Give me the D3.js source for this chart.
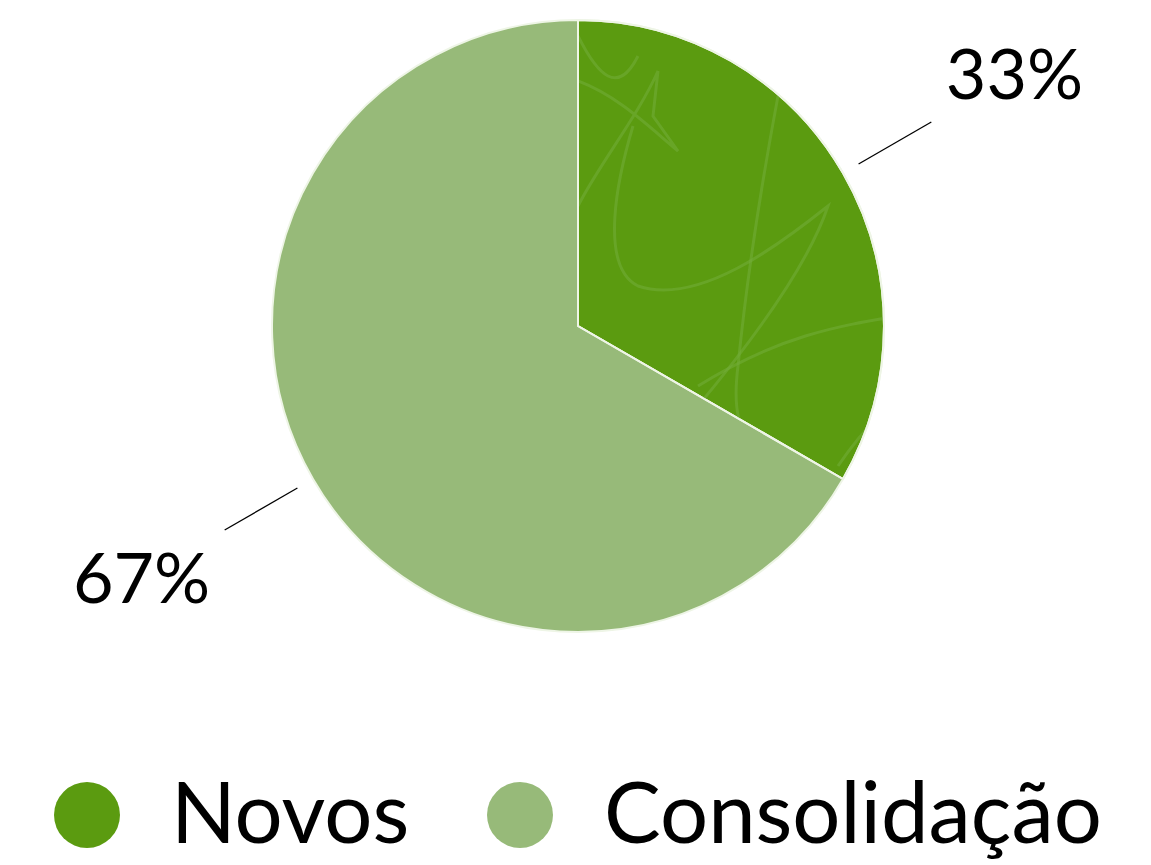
<!DOCTYPE html>
<html>
<head>
<meta charset="utf-8">
<script src="https://cdn.jsdelivr.net/npm/d3@7"></script>
<style>
  html, body { margin: 0; padding: 0; background: #fff; }
  svg { display: block; }
  text { font-family: Lato, "Open Sans", sans-serif; fill: #000; }
</style>
</head>
<body>
<svg width="1151" height="865"></svg>
<script>
// data
var categories = ["Novos", "Consolidação"];
var values = [1, 2];
var colors = ["#5b9b10", "#97ba79"];

var width = 1151, height = 865;
var cx = 578, cy = 326, radius = 306;

var svg = d3.select("svg");

var pie = d3.pie().sort(null).value(function(d){ return d; });
var arcs = pie(values);
var total = d3.sum(values);
var pct = d3.format(".0%");

var arc = d3.arc().innerRadius(0).outerRadius(radius);

var defs = svg.append("defs");
defs.append("clipPath").attr("id", "clipNovos")
  .append("path").attr("d", arc(arcs[0]));

var g = svg.append("g").attr("transform", "translate(" + cx + "," + cy + ")");

g.selectAll("path.slice")
  .data(arcs)
  .enter().append("path")
  .attr("class", "slice")
  .attr("d", arc)
  .style("fill", function(d,i){ return colors[i]; })
  .attr("stroke", "#eef5e6")
  .attr("stroke-width", 2);

// faint scribble texture on the dark slice (decoration only)
var texture = g.append("g").attr("clip-path", "url(#clipNovos)")
  .attr("fill", "none").attr("stroke", "#72ad3a").attr("stroke-opacity", 0.55).attr("stroke-width", 3);
var scribbles = [
  "M0,-245 C40,-230 70,-200 100,-175 L75,-210 L80,-255 C60,-210 20,-160 0,-120",
  "M0,-290 C20,-250 40,-230 60,-270",
  "M55,-200 C40,-150 20,-60 60,-40 C120,-20 200,-80 250,-120 C230,-60 170,20 120,80",
  "M200,-230 C185,-150 170,-60 160,40 C155,80 160,100 170,110",
  "M120,60 C200,10 260,0 320,-10",
  "M260,140 C280,110 300,90 310,80"
];
texture.selectAll("path").data(scribbles).enter().append("path").attr("d", function(d){ return d; });

g.append("path").attr("d", arc(arcs[0])).attr("fill", "none")
  .attr("stroke", "#eef5e6").attr("stroke-width", 2);

// leader lines and labels
var lineIn = d3.arc().innerRadius(324).outerRadius(324);
var lineOut = d3.arc().innerRadius(408).outerRadius(408);
var labelArc = d3.arc().innerRadius(504).outerRadius(504);

g.selectAll("line.leader")
  .data(arcs)
  .enter().append("line")
  .attr("class", "leader")
  .attr("x1", function(d){ return lineIn.centroid(d)[0]; })
  .attr("y1", function(d){ return lineIn.centroid(d)[1]; })
  .attr("x2", function(d){ return lineOut.centroid(d)[0]; })
  .attr("y2", function(d){ return lineOut.centroid(d)[1]; })
  .attr("stroke", "#000")
  .attr("stroke-width", 1.3);

g.selectAll("text.lbl")
  .data(arcs)
  .enter().append("text")
  .attr("class", "lbl")
  .attr("x", function(d){ return labelArc.centroid(d)[0]; })
  .attr("y", function(d){ return labelArc.centroid(d)[1] + 25; })
  .attr("text-anchor", "middle")
  .style("font-size", "70px")
  .text(function(d){ return pct(d.value / total); });

// legend
var legendX = [87, 520];
var legend = svg.selectAll("g.legend")
  .data(categories)
  .enter().append("g")
  .attr("class", "legend")
  .attr("transform", function(d,i){ return "translate(" + legendX[i] + ",815)"; });

legend.append("circle")
  .attr("r", 33)
  .style("fill", function(d,i){ return colors[i]; });

legend.append("text")
  .attr("x", 84)
  .attr("y", 28)
  .style("font-size", "85px")
  .text(function(d){ return d; });
</script>
</body>
</html>
